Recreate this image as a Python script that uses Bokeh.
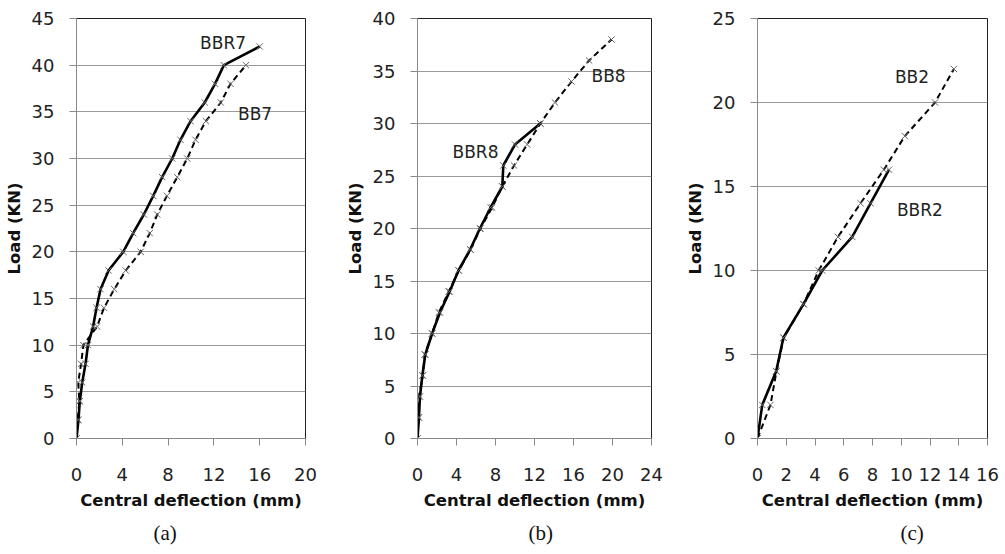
from bokeh.plotting import figure
from bokeh.layouts import row
from bokeh.models import Range1d, FixedTicker, Title
from bokeh.core.properties import value
from bokeh.embed import file_html
from bokeh.resources import INLINE

# ---------------- data ----------------
# Panel (a)
a_load_bbr7 = [0, 2, 4, 6, 8, 10, 12, 14, 16, 18, 20, 22, 24, 26, 28, 30, 32, 34, 36, 38, 40, 42]
a_defl_bbr7 = [0, 0.17, 0.29, 0.5, 0.79, 1.0, 1.45, 1.75, 2.1, 2.8, 4.08, 4.95, 5.88, 6.7, 7.48, 8.36, 9.08, 9.96, 11.2, 12.1, 12.87, 16.0]
a_load_bb7 = [0, 2, 4, 6, 8, 10, 12, 14, 16, 18, 20, 22, 24, 26, 28, 30, 32, 34, 36, 38, 40]
a_defl_bb7 = [0, 0.1, 0.25, 0.15, 0.4, 0.6, 1.8, 2.4, 3.3, 4.3, 5.6, 6.4, 7.05, 7.9, 8.8, 9.67, 10.4, 11.3, 12.6, 13.45, 14.8]

# Panel (b)
b_load_bbr8 = [0, 2, 4, 6, 8, 10, 12, 14, 16, 18, 20, 22, 24, 26, 28, 30]
b_defl_bbr8 = [0, 0.15, 0.25, 0.5, 0.8, 1.5, 2.3, 3.3, 4.2, 5.4, 6.4, 7.5, 8.7, 8.8, 10.0, 12.6]
b_load_bb8 = [0, 2, 4, 6, 8, 10, 12, 14, 16, 18, 20, 22, 24, 26, 28, 30, 32, 34, 36, 38]
b_defl_bb8 = [0, 0.1, 0.14, 0.55, 0.75, 1.5, 2.2, 3.2, 4.24, 5.44, 6.46, 7.65, 8.7, 9.9, 11.25, 12.6, 14.1, 15.8, 17.6, 19.9]

# Panel (c)
c_load_bbr2 = [0, 2, 4, 6, 8, 10, 12, 14, 16]
c_defl_bbr2 = [0, 0.33, 1.3, 1.8, 3.2, 4.5, 6.59, 7.86, 9.15]
c_load_bb2 = [0, 2, 4, 6, 8, 10, 12, 14, 16, 18, 20, 22]
c_defl_bb2 = [0, 0.9, 1.32, 1.83, 3.2, 4.26, 5.6, 7.17, 8.79, 10.25, 12.35, 13.66]

# ticks
a_xticks = [0, 4, 8, 12, 16, 20]
a_yticks = [0, 5, 10, 15, 20, 25, 30, 35, 40, 45]
b_xticks = [0, 4, 8, 12, 16, 20, 24]
b_yticks = [0, 5, 10, 15, 20, 25, 30, 35, 40]
c_xticks = [0, 2, 4, 6, 8, 10, 12, 14, 16]
c_yticks = [0, 5, 10, 15, 20, 25]

# curve labels
a_labels = ["BBR7", "BB7"]
b_labels = ["BBR8", "BB8"]
c_labels = ["BBR2", "BB2"]

FONT = "DejaVu Sans"


def panel(xt, yt, solid, dashed, labels, label_pos, caption, left, right, cap_offset):
    p = figure(width=335, height=554,
               x_range=Range1d(xt[0], xt[-1]), y_range=Range1d(yt[0], yt[-1]),
               output_backend="svg", toolbar_location=None,
               min_border_left=left, min_border_right=right,
               min_border_top=18, min_border_bottom=116,
               background_fill_color="white", border_fill_color="white")
    p.outline_line_color = "#222222"
    p.outline_line_width = 1
    p.xgrid.visible = False
    p.ygrid.grid_line_color = "#9a9a9a"
    p.ygrid.grid_line_width = 1

    for ax, ticks in ((p.xaxis, xt), (p.yaxis, yt)):
        ax.ticker = FixedTicker(ticks=ticks)
        ax.axis_line_color = "#8a8a8a"
        ax.major_tick_line_color = "#8a8a8a"
        ax.major_tick_out = 7
        ax.major_tick_in = 0
        ax.minor_tick_line_color = None
        ax.major_label_text_font = FONT
        ax.major_label_text_font_size = "18px"
        ax.major_label_text_color = "#222222"
        ax.axis_label_text_font = FONT
        ax.axis_label_text_font_size = "16.5px"
        ax.axis_label_text_font_style = "bold"
        ax.axis_label_text_color = "#111111"
    p.xaxis.axis_label = "Central deflection (mm)"
    p.yaxis.axis_label = "Load (KN)"
    p.xaxis.major_label_standoff = 22
    p.xaxis.axis_label_standoff = 7
    p.yaxis.major_label_standoff = 15
    p.yaxis.axis_label_standoff = 5

    dx, dy = dashed
    sx, sy = solid
    p.line(dx, dy, line_color="black", line_width=2, line_dash="6 4")
    p.scatter(dx, dy, marker="x", size=9, line_color="#666666", line_width=1)
    p.line(sx, sy, line_color="black", line_width=2.6)
    p.scatter(sx, sy, marker="x", size=9, line_color="#666666", line_width=1)

    lx, ly = label_pos
    p.text(lx, ly, text=labels, text_font=value(FONT), text_font_size="17px",
           text_color="#222222", text_align="center", text_baseline="middle")

    t = Title(text=caption, align="left", offset=cap_offset, standoff=13,
              text_font="Liberation Serif", text_font_size="21px",
              text_font_style="normal", text_color="#111111")
    p.add_layout(t, "below")
    return p


pa = panel(a_xticks, a_yticks, (a_defl_bbr7, a_load_bbr7), (a_defl_bb7, a_load_bb7),
           a_labels, ([12.8, 15.6], [42.4, 34.8]), "(a)", 76, 30, 77)
pb = panel(b_xticks, b_yticks, (b_defl_bbr8, b_load_bbr8), (b_defl_bb8, b_load_bb8),
           b_labels, ([5.95, 19.6], [27.3, 34.5]), "(b)", 82, 19, 111)
pc = panel(c_xticks, c_yticks, (c_defl_bbr2, c_load_bbr2), (c_defl_bb2, c_load_bb2),
           c_labels, ([11.3, 10.75], [13.6, 21.5]), "(c)", 87, 18, 143)

layout = row(pa, pb, pc, spacing=0)
open("out.html", "w").write(file_html(layout, INLINE))
